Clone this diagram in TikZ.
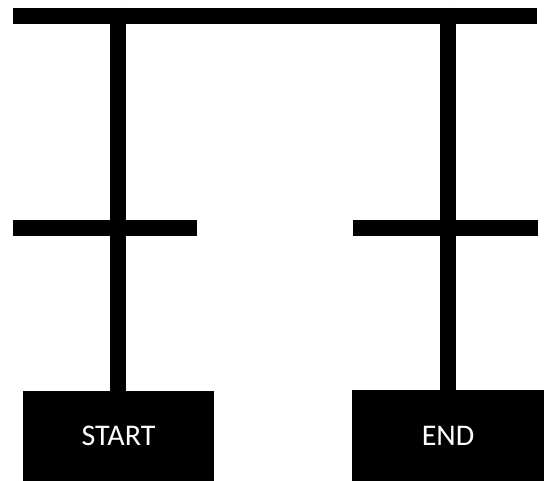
\documentclass[tikz,border=0pt]{standalone}
\usepackage{fontspec}
\newfontfamily\calib{Carlito}
\usepackage{tikz}
\usetikzlibrary{calc}

\tikzset{bar/.style={line width=16pt,line cap=butt},
  box/.style={fill=black,text=white,inner sep=0pt,font=\calib\fontsize{30}{36}\selectfont}}

\begin{document}
\begin{tikzpicture}[x=1pt,y=-1pt]
\useasboundingbox (0,0) rectangle (544,481);
\node[box,minimum width=191pt,minimum height=90pt] (start) at (118.5,436) {START};
\node[box,minimum width=192pt,minimum height=91pt] (end) at (448,435.5) {END};

\coordinate (topL) at (13,16); \coordinate (topR) at (537,16);
\coordinate (midLa) at (13,228); \coordinate (midLb) at (197,228);
\coordinate (midRa) at (353,228); \coordinate (midRb) at (538,228);
\coordinate (vL) at (117.5,8); \coordinate (vR) at (448,8);

\draw[bar] (topL) -- (topR);
\draw[bar] (midLa) -- (midLb);
\draw[bar] (midRa) -- (midRb);
\draw[bar] (vL) -- (vL |- start.north);
\draw[bar] (vR) -- (vR |- end.north);
\end{tikzpicture}
\end{document}
